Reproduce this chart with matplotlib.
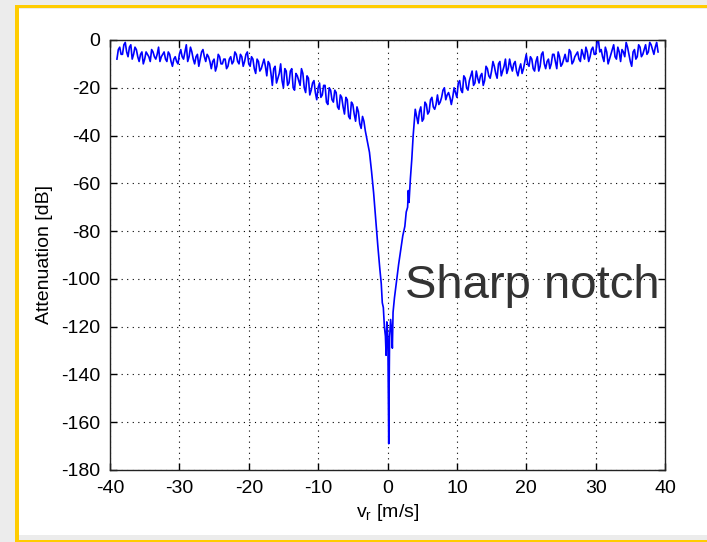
import numpy as np
import matplotlib
matplotlib.use('Agg')
import matplotlib.pyplot as plt
from matplotlib.patches import Rectangle

plt.rcParams['font.family'] = ['Liberation Sans', 'DejaVu Sans']
plt.rcParams['axes.unicode_minus'] = False

# radial velocity grid [m/s] for the two noisy wings
v_left = np.round(np.arange(-39.0, -3.1, 0.2), 1)
v_right = np.round(np.arange(4.0, 39.1, 0.2), 1)

# attenuation [dB], left wing (every other sample)
att_left_a = [-8, -3, -6, -1, -7, -2, -6, -4, -9, -5,
              -8, -6, -9, -5, -8, -3, -7, -5, -9, -6,
              -11, -7, -10, -4, -8, -2, -7, -5, -10, -6,
              -8, -4, -9, -7, -12, -8, -11, -7, -10, -8,
              -11, -7, -9, -6, -10, -7, -9, -5, -11, -8,
              -14, -9, -12, -8, -15, -10, -19, -11, -16, -10,
              -20, -13, -18, -12, -21, -15, -19, -14, -22, -16,
              -21, -17, -25, -18, -23, -19, -27, -21, -26, -22,
              -29, -24, -31, -25, -33, -27, -34, -30, -37, -34]
# samples in between
att_left_b = [-4, -6, -2, -5, -3, -8, -3, -7, -6, -10,
              -5, -7, -4, -7, -6, -9, -6, -8, -5, -9,
              -8, -9, -6, -7, -5, -9, -3, -8, -7, -11,
              -5, -7, -6, -9, -9, -13, -6, -10, -8, -12,
              -8, -10, -5, -9, -6, -11, -6, -10, -7, -12,
              -8, -13, -10, -11, -9, -14, -12, -18, -14, -17,
              -12, -19, -13, -20, -14, -17, -12, -20, -15, -23,
              -18, -22, -20, -24, -19, -26, -20, -25, -21, -28,
              -23, -28, -24, -32, -26, -31, -28, -35, -32, -38]

# the notch itself
v_notch = [-3.0, -2.6, -2.3, -2.0, -1.7, -1.4, -1.1, -0.9, -0.75, -0.6,
           -0.45, -0.3, -0.2, -0.1, 0.05, 0.12, 0.18, 0.22, 0.3, 0.45,
           0.6, 0.7, 0.8, 1.0, 1.3, 1.6, 1.9, 2.2, 2.5, 2.7,
           2.9, 3.0, 3.1, 3.3, 3.5, 3.7]
att_notch = [-41, -47, -55, -64, -75, -86, -96, -102, -110, -112,
             -120, -124, -132, -118, -124, -150, -169, -150, -125, -117,
             -122, -129, -114, -108, -101, -94, -88, -82, -78, -72,
             -70, -63, -68, -58, -50, -40]

# right wing
att_right_a = [-29, -35, -28, -33, -27, -30, -24, -29, -23, -26,
               -21, -25, -22, -27, -20, -24, -17, -22, -16, -21,
               -15, -19, -13, -18, -14, -17, -12, -16, -9, -14,
               -10, -15, -11, -14, -8, -13, -9, -15, -10, -12,
               -6, -11, -8, -13, -7, -11, -5, -12, -8, -10,
               -6, -12, -7, -10, -6, -9, -5, -9, -6, -8,
               -4, -8, -5, -7, -3, -6, 0, -4, -9, -5,
               -8, -4, -7, -3, -9, -5, -1, -6, -11, -4,
               -7, -3, -6, -2, -5, -2, -6, -1]
att_right_b = [-32, -30, -34, -26, -31, -25, -28, -27, -27, -24,
               -20, -23, -24, -24, -22, -18, -21, -15, -20, -17,
               -13, -18, -16, -15, -19, -11, -15, -13, -11, -16,
               -9, -13, -8, -12, -11, -10, -13, -12, -14, -9,
               -10, -7, -12, -9, -13, -6, -10, -9, -12, -6,
               -9, -5, -11, -8, -9, -4, -10, -7, -5, -9,
               -6, -3, -9, -4, -6, -1, -5, -7, -3, -10,
               -6, -2, -8, -5, -4, -7, -3, -9, -5, -8,
               -2, -7, -4, -6, -1, -4, -3, -5]

att_left = np.column_stack([att_left_a, att_left_b]).ravel()
att_right = np.column_stack([att_right_a, att_right_b]).ravel()

v = np.concatenate([v_left, v_notch, v_right])
att = np.concatenate([att_left, att_notch, att_right])

fig = plt.figure(figsize=(7.07, 5.42), dpi=100, facecolor='#ececec')

# slide background: white panel with yellow frame
W, H = 707, 542
fig.patches.append(Rectangle((19 / W, 1 - 535 / H), 1, (535 - 9) / H,
                             transform=fig.transFigure, facecolor='white',
                             edgecolor='none', zorder=0))
fig.patches.append(Rectangle((15 / W, 1 - 8 / H), 1, 3 / H,
                             transform=fig.transFigure, facecolor='#ffcc00',
                             edgecolor='none', zorder=1))
fig.patches.append(Rectangle((15 / W, 0), 4 / W, 1 - 5 / H,
                             transform=fig.transFigure, facecolor='#ffcc00',
                             edgecolor='none', zorder=1))
fig.patches.append(Rectangle((15 / W, 0), 1, 2 / H,
                             transform=fig.transFigure, facecolor='#ffcc00',
                             edgecolor='none', zorder=1))

ax = fig.add_axes([110 / W, 1 - 470 / H, 555 / W, 430 / H])
ax.set_zorder(5)
ax.plot(v, att, color='#0000ff', lw=1.2)

ax.set_xlim(-40, 40)
ax.set_ylim(-180, 0)
ax.set_xticks(np.arange(-40, 41, 10))
ax.set_yticks(np.arange(-180, 1, 20))
ax.grid(True, color='black', linestyle=(0, (1, 4)), lw=0.8)
ax.tick_params(direction='in', length=5, top=True, right=True,
               labelsize=14, pad=7, width=1)
for s in ax.spines.values():
    s.set_linewidth(1.0)
    s.set_color('#222222')

ax.set_xlabel(r'$\mathregular{v_r}$ [m/s]', fontsize=14, labelpad=4)
ax.set_ylabel('Attenuation [dB]', fontsize=14, labelpad=6)

t = fig.text(405 / W, 1 - 298 / H, 'Sharp notch', fontsize=34, color='#333333',
             ha='left', va='baseline')
t.set_zorder(10)

fig.savefig('out.png', dpi=100, facecolor=fig.get_facecolor())
